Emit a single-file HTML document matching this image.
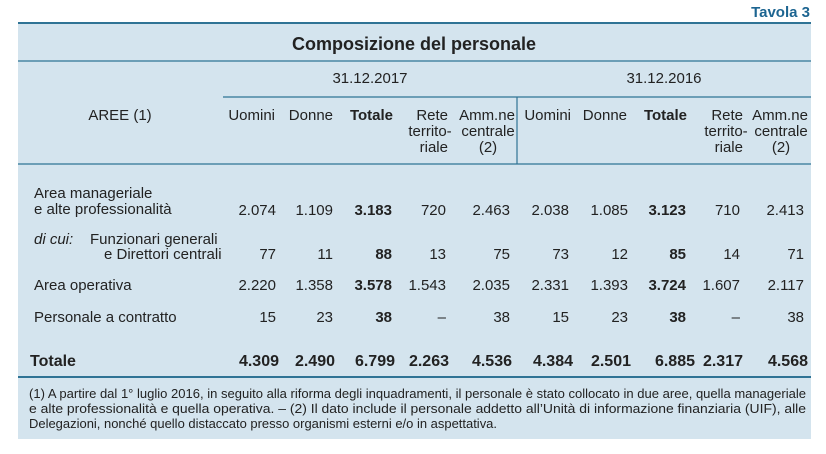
<!DOCTYPE html>
<html><head><meta charset="utf-8"><style>
html,body{margin:0;padding:0;background:#fff;width:826px;height:454px;overflow:hidden}
svg{display:block}
text{font-family:"Liberation Sans",Arial,sans-serif;fill:#222;font-size:15px}
.b{font-weight:bold}
.e{text-anchor:end}
.m{text-anchor:middle}
</style></head><body>
<svg width="826" height="454" viewBox="0 0 826 454" xmlns="http://www.w3.org/2000/svg">
<rect x="18" y="23" width="793" height="416" fill="#d4e4ee"/>
<g stroke="#2f7395" fill="none">
<line x1="18" y1="23" x2="811" y2="23" stroke-width="2"/>
<line x1="18" y1="61" x2="811" y2="61" stroke-width="1.2"/>
<line x1="223" y1="97" x2="811" y2="97" stroke-width="1.2"/>
<line x1="517" y1="97" x2="517" y2="164" stroke-width="1.2"/>
<line x1="18" y1="164" x2="811" y2="164" stroke-width="1.2"/>
<line x1="18" y1="377" x2="811" y2="377" stroke-width="2"/>
</g>
<text x="810" y="17" class="b e" style="fill:#1d6591;font-size:15px">Tavola 3</text>
<text x="414" y="50" class="b m" style="font-size:18px">Composizione del personale</text>
<text x="370" y="83" class="m">31.12.2017</text>
<text x="664" y="83" class="m">31.12.2016</text>
<text x="120" y="120" class="m">AREE (1)</text>
<g>
<text x="275" y="120" class="e">Uomini</text>
<text x="333" y="120" class="e">Donne</text>
<text x="393" y="120" class="e b">Totale</text>
<text x="448" y="120" class="e">Rete</text>
<text x="430" y="136" class="m">territo-</text>
<text x="448" y="152" class="e">riale</text>
<text x="487" y="120" class="m">Amm.ne</text>
<text x="488" y="136" class="m">centrale</text>
<text x="488" y="152" class="m">(2)</text>
<text x="571" y="120" class="e">Uomini</text>
<text x="627" y="120" class="e">Donne</text>
<text x="687" y="120" class="e b">Totale</text>
<text x="743" y="120" class="e">Rete</text>
<text x="726" y="136" class="m">territo-</text>
<text x="743" y="152" class="e">riale</text>
<text x="780" y="120" class="m">Amm.ne</text>
<text x="781" y="136" class="m">centrale</text>
<text x="781" y="152" class="m">(2)</text>
</g>
<text x="34" y="198">Area manageriale</text>
<text x="34" y="214">e alte professionalità</text>
<text x="34" y="244"><tspan font-style="italic">di cui:</tspan></text>
<text x="90" y="244">Funzionari generali</text>
<text x="104" y="259">e Direttori centrali</text>
<text x="34" y="290">Area operativa</text>
<text x="34" y="322">Personale a contratto</text>
<text x="30" y="366" class="b" style="font-size:16px">Totale</text>
<g>
<text x="276" y="215" class="e">2.074</text><text x="333" y="215" class="e">1.109</text><text x="392" y="215" class="e b">3.183</text><text x="446" y="215" class="e">720</text><text x="510" y="215" class="e">2.463</text><text x="569" y="215" class="e">2.038</text><text x="628" y="215" class="e">1.085</text><text x="686" y="215" class="e b">3.123</text><text x="740" y="215" class="e">710</text><text x="804" y="215" class="e">2.413</text>
<text x="276" y="259" class="e">77</text><text x="333" y="259" class="e">11</text><text x="392" y="259" class="e b">88</text><text x="446" y="259" class="e">13</text><text x="510" y="259" class="e">75</text><text x="569" y="259" class="e">73</text><text x="628" y="259" class="e">12</text><text x="686" y="259" class="e b">85</text><text x="740" y="259" class="e">14</text><text x="804" y="259" class="e">71</text>
<text x="276" y="290" class="e">2.220</text><text x="333" y="290" class="e">1.358</text><text x="392" y="290" class="e b">3.578</text><text x="446" y="290" class="e">1.543</text><text x="510" y="290" class="e">2.035</text><text x="569" y="290" class="e">2.331</text><text x="628" y="290" class="e">1.393</text><text x="686" y="290" class="e b">3.724</text><text x="740" y="290" class="e">1.607</text><text x="804" y="290" class="e">2.117</text>
<text x="276" y="322" class="e">15</text><text x="333" y="322" class="e">23</text><text x="392" y="322" class="e b">38</text><text x="446" y="322" class="e">–</text><text x="510" y="322" class="e">38</text><text x="569" y="322" class="e">15</text><text x="628" y="322" class="e">23</text><text x="686" y="322" class="e b">38</text><text x="740" y="322" class="e">–</text><text x="804" y="322" class="e">38</text>
</g>
<g>
<text x="279" y="366" class="e b" style="font-size:16px">4.309</text><text x="335" y="366" class="e b" style="font-size:16px">2.490</text><text x="395" y="366" class="e b" style="font-size:16px">6.799</text><text x="449" y="366" class="e b" style="font-size:16px">2.263</text><text x="512" y="366" class="e b" style="font-size:16px">4.536</text><text x="573" y="366" class="e b" style="font-size:16px">4.384</text><text x="631" y="366" class="e b" style="font-size:16px">2.501</text><text x="695" y="366" class="e b" style="font-size:16px">6.885</text><text x="743" y="366" class="e b" style="font-size:16px">2.317</text><text x="808" y="366" class="e b" style="font-size:16px">4.568</text>
</g>
<text x="29" y="398" style="font-size:13px" textLength="777" lengthAdjust="spacingAndGlyphs">(1) A partire dal 1° luglio 2016, in seguito alla riforma degli inquadramenti, il personale è stato collocato in due aree, quella manageriale</text>
<text x="29" y="413" style="font-size:13px" textLength="777" lengthAdjust="spacingAndGlyphs">e alte professionalità e quella operativa. – (2) Il dato include il personale addetto all’Unità di informazione finanziaria (UIF), alle</text>
<text x="29" y="428" style="font-size:13px" textLength="468" lengthAdjust="spacingAndGlyphs">Delegazioni, nonché quello distaccato presso organismi esterni e/o in aspettativa.</text>
</svg>
</body></html>
